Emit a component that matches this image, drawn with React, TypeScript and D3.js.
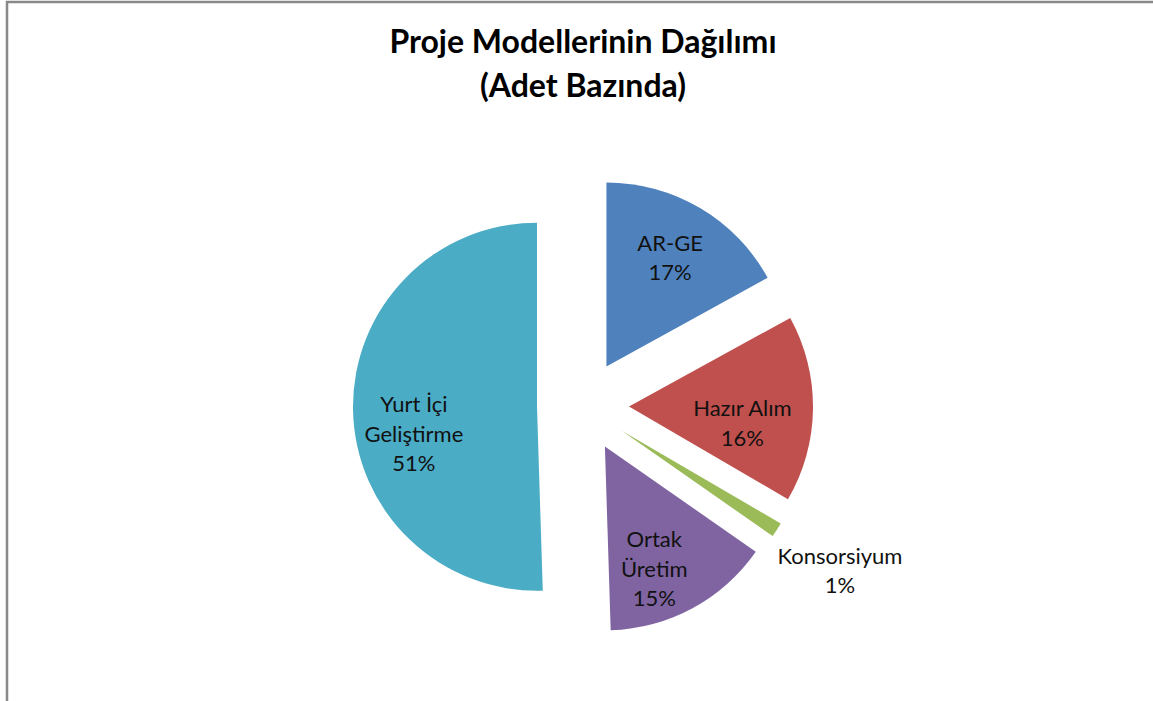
import React, { useEffect, useRef } from "react";
import * as d3 from "d3";

const categories = ["AR-GE", "Hazır Alım", "Konsorsiyum", "Ortak Üretim", "Yurt İçi Geliştirme"];
const values = [17.0, 16.4, 1.3, 14.8, 50.5];
const labelLines = [["AR-GE"], ["Hazır Alım"], ["Konsorsiyum"], ["Ortak", "Üretim"], ["Yurt İçi", "Geliştirme"]];
const colors = ["#4F81BD", "#C0504D", "#9BBB59", "#8064A2", "#4BACC6"];
const titleLines = ["Proje Modellerinin Dağılımı", "(Adet Bazında)"];

const W = 1153;
const H = 701;
const CX = 583;
const CY = 406;
const R = 184;
const EXPLODE = 46;
// label layout: radius factor from slice origin, extra pixel nudges
const labelLayout = [
  { rf: 0.68, dx: 0, dy: 0 },
  { rf: 0.66, dx: -8, dy: 16 },
  { rf: 1.42, dx: -2, dy: 0 },
  { rf: 0.7, dx: -12, dy: 10 },
  { rf: 0.68, dx: 2, dy: 26 },
];

export default function App() {
  const ref = useRef<SVGSVGElement>(null);
  useEffect(() => {
    const svg = d3.select(ref.current);
    svg.selectAll("*").remove();

    svg
      .append("rect")
      .attr("x", 7)
      .attr("y", 2)
      .attr("width", W + 50)
      .attr("height", H + 50)
      .attr("fill", "#fff")
      .attr("stroke", "#898989")
      .attr("stroke-width", 2.5);

    const title = svg
      .append("text")
      .attr("x", CX)
      .attr("text-anchor", "middle")
      .attr("font-family", "Lato, 'Open Sans', sans-serif")
      .attr("font-weight", "bold")
      .attr("font-size", 32)
      .attr("fill", "#000");
    titleLines.forEach((t, i) => {
      title.append("tspan").attr("x", CX).attr("y", 53 + i * 44).text(t);
    });

    const pie = d3
      .pie<number>()
      .sort(null)
      .value((d) => d)
      .startAngle(0)
      .endAngle(2 * Math.PI);
    const arcs = pie(values);
    const arc = d3.arc<d3.PieArcDatum<number>>().innerRadius(0).outerRadius(R);
    const total = d3.sum(values);

    const g = svg.append("g").attr("transform", `translate(${CX},${CY})`);

    arcs.forEach((a, i) => {
      const mid = (a.startAngle + a.endAngle) / 2;
      const ox = EXPLODE * Math.sin(mid);
      const oy = -EXPLODE * Math.cos(mid);
      const sg = g.append("g").attr("transform", `translate(${ox},${oy})`);
      sg.append("path").attr("d", arc(a) as string).attr("fill", colors[i]);

      const lay = labelLayout[i];
      const lx = lay.rf * R * Math.sin(mid) + lay.dx;
      const ly = -lay.rf * R * Math.cos(mid) + lay.dy;
      const lines = [...labelLines[i], `${Math.round((values[i] / total) * 100)}%`];
      const lh = 29.5;
      const t = sg
        .append("text")
        .attr("text-anchor", "middle")
        .attr("font-family", "Lato, 'Open Sans', sans-serif")
        .attr("font-size", 22)
        .attr("fill", "#111");
      lines.forEach((s, k) => {
        t.append("tspan")
          .attr("x", lx)
          .attr("y", ly + (k - (lines.length - 1) / 2) * lh + 7)
          .text(s);
      });
    });
  }, []);

  return (
    <svg
      ref={ref}
      width={W}
      height={H}
      style={{ position: "absolute", left: 0, top: 0, display: "block" }}
    />
  );
}
